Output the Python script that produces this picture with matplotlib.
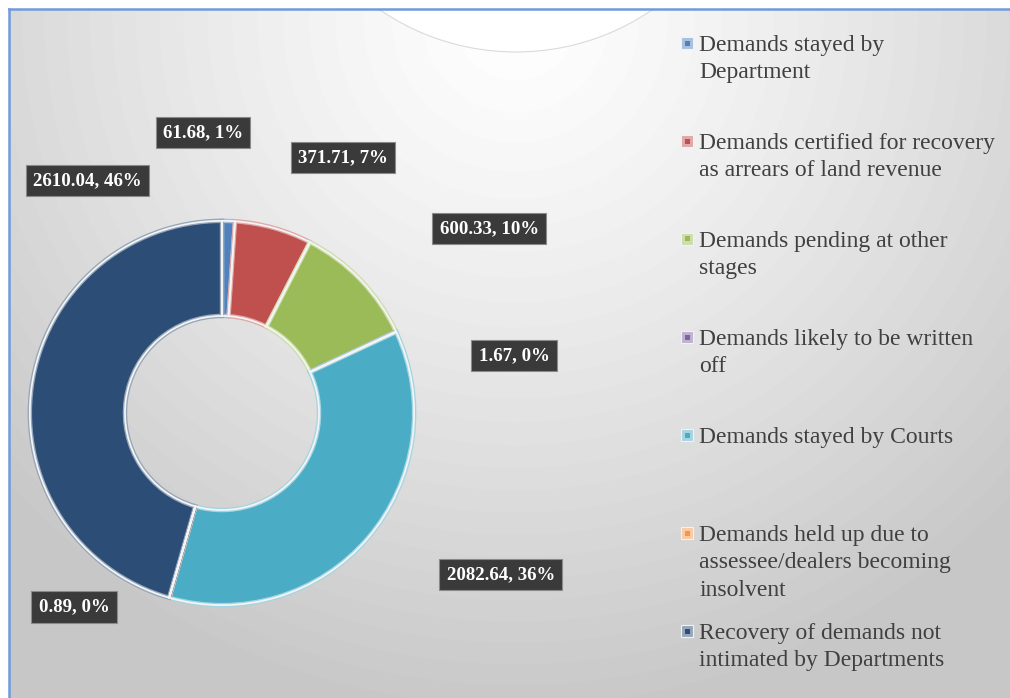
import numpy as np
import matplotlib.pyplot as plt
from matplotlib.patches import Circle, Rectangle

# ---------------------------------------------------------------------------
categories = ['Demands stayed by\nDepartment',
              'Demands certified for recovery\nas arrears of land revenue',
              'Demands pending at other\nstages',
              'Demands likely to be written\noff',
              'Demands stayed by Courts',
              'Demands held up due to\nassessee/dealers becoming\ninsolvent',
              'Recovery of demands not\nintimated by Departments']
values = [61.68, 371.71, 600.33, 1.67, 2082.64, 0.89, 2610.04]
percents = [1, 7, 10, 0, 36, 0, 46]
colors = ['#4F81BD', '#C0504D', '#9BBB59', '#8064A2', '#4BACC6', '#F79646', '#2C4D75']
edge_colors = ['#A7C0DE', '#E0A8A6', '#CDDDAC', '#BFB1D0', '#A5D5E2', '#FBCAA2', '#95A6BA']

# label box positions (in pie data units, radius = 1)
label_pos = [(-0.10, 1.46), (0.63, 1.33), (1.39, 0.96), (1.52, 0.30),
             (1.45, -0.84), (-0.77, -1.01), (-0.70, 1.21)]
# ---------------------------------------------------------------------------

W, H = 1010, 698
fig = plt.figure(figsize=(W / 100, H / 100), dpi=100, facecolor='white')

# background panel with radial gradient
bg = fig.add_axes([9 / W, 0, 1 - 9 / W, (H - 9) / H])
xs = np.arange(9, W) + 0.5
ys = np.arange(9, H) + 0.5
X, Y = np.meshgrid(xs, ys)
d = np.sqrt((X - 516) ** 2 + (Y - 20) ** 2)
img = 1 - 0.22 * np.clip(d / 700, 0, 1) ** 1.2
bg.imshow(img, cmap='gray', vmin=0, vmax=1, extent=(9, W, H, 9), aspect='auto')
bg.add_patch(Circle((516, -189), 241, fc='white', ec='#dadada', lw=0.8))
bg.set_xlim(9, W)
bg.set_ylim(H, 9)
bg.set_xticks([])
bg.set_yticks([])
for s in ['right', 'bottom']:
    bg.spines[s].set_visible(False)
for s in ['top', 'left']:
    bg.spines[s].set_color('#6F9BDA')
    bg.spines[s].set_linewidth(1.8)

# donut
R = 196
pax = fig.add_axes([(222 - R) / W, (H - 413 - R) / H, 2 * R / W, 2 * R / H])
wedges, _ = pax.pie(values, colors=colors, startangle=90, counterclock=False,
                    radius=1, wedgeprops=dict(width=0.495, linewidth=3.2))
for w, ec in zip(wedges, edge_colors):
    w.set_edgecolor(ec)
pax.pie(values, colors=['none'] * len(values), startangle=90, counterclock=False,
        radius=1, wedgeprops=dict(width=0.495, edgecolor='#f4f4f4', linewidth=1.3))
pax.set_xlim(-1.02, 1.02)
pax.set_ylim(-1.02, 1.02)
pax.set_aspect('equal')
pax.axis('off')

for v, p, (lx, ly) in zip(values, percents, label_pos):
    pax.text(lx, ly, f'{v:.2f}, {p}%', ha='center', va='center', color='white',
             fontweight='bold', family='Liberation Serif', fontsize=13.6, clip_on=False,
             bbox=dict(boxstyle='square,pad=0.38', fc='#3a3a3a', ec='#8a8a8a', lw=0.8))

# legend
for i, (lab, c, ec) in enumerate(zip(categories, colors, edge_colors)):
    yc = 43 + 98 * i
    fig.patches.append(Rectangle((681 / W, 1 - (yc + 6) / H), 12 / W, 12 / H,
                                 transform=fig.transFigure, fc=ec, ec='#f2f2f2', lw=0.8))
    fig.patches.append(Rectangle((684.5 / W, 1 - (yc + 2.5) / H), 5 / W, 5 / H,
                                 transform=fig.transFigure, fc=c, ec='none'))
    fig.text(699 / W, 1 - (yc - 8) / H, lab, ha='left', va='top', color='#404040',
             family='Liberation Serif', fontsize=17, linespacing=1.4)

fig.savefig('out.png', dpi=100)
